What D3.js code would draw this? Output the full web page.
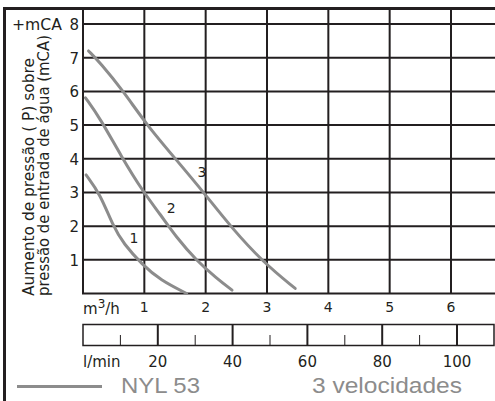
<!DOCTYPE html>
<html>
<head>
<meta charset="utf-8">
<script src="https://cdn.jsdelivr.net/npm/d3@7"></script>
<style>
  body { margin: 0; background: #fff; }
  text { font-family: "DejaVu Sans", "Liberation Sans", sans-serif; fill: #231f20; }
</style>
</head>
<body>
<div id="chart"></div>
<script>
// curves: flow (m3/h) vs pressure gain (mCA), one per speed
const speed1 = [[0.05, 3.52], [0.28, 2.95], [0.49, 2.0], [0.66, 1.48], [0.97, 0.85], [1.26, 0.40], [1.69, 0.0]];
const speed2 = [[0.04, 5.81], [0.28, 5.2], [0.63, 4.05], [0.98, 3.02], [1.26, 2.35], [1.53, 1.65], [1.85, 0.98], [2.18, 0.45], [2.43, 0.10]];
const speed3 = [[0.09, 7.2], [0.28, 6.85], [0.66, 6.0], [1.04, 5.0], [1.53, 3.95], [1.99, 2.95], [2.40, 2.0], [2.94, 0.92], [3.46, 0.15]];
const curveLabels = [["1", 0.83, 1.5], ["2", 1.44, 2.39], ["3", 1.94, 3.46]];

const m3hTicks = [1, 2, 3, 4, 5, 6];
const mcaTicks = [1, 2, 3, 4, 5, 6, 7, 8];
const lminMajor = [20, 40, 60, 80, 100];
const lminMinor = [10, 30, 50, 70, 90];

const width = 495, height = 401;
const gridColor = "#231f20";
const curveColor = "#8c8c8c";

const svg = d3.select("#chart").append("svg")
  .attr("width", width)
  .attr("height", height);

const x = d3.scaleLinear().domain([0, 6]).range([83, 451]);
const y = d3.scaleLinear().domain([0, 8]).range([293.5, 24]);
const lmin = d3.scaleLinear().domain([0, 100]).range([83, 457]);

// frame: thick top and left border
svg.append("line").attr("x1", 3).attr("x2", width).attr("y1", 8.5).attr("y2", 8.5)
  .attr("stroke", gridColor).attr("stroke-width", 3);
svg.append("line").attr("x1", 4.5).attr("x2", 4.5).attr("y1", 7).attr("y2", height)
  .attr("stroke", gridColor).attr("stroke-width", 3);

// grid
svg.selectAll(".vgrid")
  .data([0].concat(m3hTicks))
  .enter().append("line")
  .attr("x1", d => x(d)).attr("x2", d => x(d))
  .attr("y1", 9).attr("y2", y(0))
  .attr("stroke", gridColor).attr("stroke-width", 2);

svg.selectAll(".hgrid")
  .data([0].concat(mcaTicks))
  .enter().append("line")
  .attr("x1", x(0) - 1).attr("x2", width)
  .attr("y1", d => y(d)).attr("y2", d => y(d))
  .attr("stroke", gridColor).attr("stroke-width", 2);

// y tick labels
svg.selectAll(".ylab")
  .data(mcaTicks)
  .enter().append("text")
  .attr("x", x(0) - 4)
  .attr("y", d => y(d) + 6)
  .attr("text-anchor", "end")
  .attr("font-size", 15)
  .text(d => d);

svg.append("text").attr("x", 12).attr("y", 30).attr("font-size", 15)
  .attr("textLength", 50).attr("lengthAdjust", "spacingAndGlyphs").text("+mCA");

// y axis title, two rotated lines
const ytitle = [["Aumento de pressão ( P) sobre", 34, 238], ["pressão de entrada de água (mCA)", 49, 261]];
ytitle.forEach(([t, bx, len]) => {
  svg.append("text")
    .attr("transform", `translate(${bx},296) rotate(-90)`)
    .attr("font-size", 15)
    .attr("textLength", len)
    .attr("lengthAdjust", "spacingAndGlyphs")
    .text(t);
});

// curves
const line = d3.line()
  .x(d => x(d[0]))
  .y(d => y(d[1]))
  .curve(d3.curveBasis);

svg.selectAll(".curve")
  .data([speed1, speed2, speed3])
  .enter().append("path")
  .attr("d", line)
  .attr("fill", "none")
  .attr("stroke", curveColor)
  .attr("stroke-width", 3)
  .attr("stroke-linecap", "round");

svg.selectAll(".clab")
  .data(curveLabels)
  .enter().append("text")
  .attr("x", d => x(d[1]))
  .attr("y", d => y(d[2]))
  .attr("text-anchor", "middle")
  .attr("font-size", 14)
  .text(d => d[0]);

// m3/h labels
const unit1 = svg.append("text").attr("x", 83).attr("y", 314).attr("font-size", 15);
unit1.append("tspan").text("m");
unit1.append("tspan").attr("dy", -6).attr("font-size", 12).text("3");
unit1.append("tspan").attr("dy", 6).text("/h");

svg.selectAll(".xlab")
  .data(m3hTicks)
  .enter().append("text")
  .attr("x", d => x(d))
  .attr("y", 312)
  .attr("text-anchor", "middle")
  .attr("font-size", 14)
  .text(d => d);

// l/min scale box
svg.append("rect")
  .attr("x", lmin(0)).attr("y", 324.5)
  .attr("width", width - 1 - lmin(0)).attr("height", 21)
  .attr("fill", "none").attr("stroke", gridColor).attr("stroke-width", 1.5);

svg.selectAll(".lmaj")
  .data(lminMajor)
  .enter().append("line")
  .attr("x1", d => lmin(d)).attr("x2", d => lmin(d))
  .attr("y1", 324.5).attr("y2", 345.5)
  .attr("stroke", gridColor).attr("stroke-width", 2);

svg.selectAll(".lmin")
  .data(lminMinor)
  .enter().append("line")
  .attr("x1", d => lmin(d)).attr("x2", d => lmin(d))
  .attr("y1", 335).attr("y2", 345.5)
  .attr("stroke", gridColor).attr("stroke-width", 1);

svg.append("text").attr("x", 83).attr("y", 367).attr("font-size", 15).text("l/min");

svg.selectAll(".llab")
  .data(lminMajor)
  .enter().append("text")
  .attr("x", d => lmin(d))
  .attr("y", 367)
  .attr("text-anchor", "middle")
  .attr("font-size", 15)
  .text(d => d);

// legend
svg.append("line")
  .attr("x1", 17).attr("x2", 102)
  .attr("y1", 386.5).attr("y2", 386.5)
  .attr("stroke", curveColor).attr("stroke-width", 3);

svg.append("text").attr("x", 121).attr("y", 393)
  .attr("font-size", 22)
  .attr("textLength", 79).attr("lengthAdjust", "spacingAndGlyphs")
  .style("fill", curveColor).style("font-family", "'Liberation Sans', Arial, sans-serif")
  .text("NYL 53");

svg.append("text").attr("x", 312).attr("y", 393)
  .attr("font-size", 22)
  .attr("textLength", 150).attr("lengthAdjust", "spacingAndGlyphs")
  .style("fill", curveColor).style("font-family", "'Liberation Sans', Arial, sans-serif")
  .text("3 velocidades");
</script>
</body>
</html>
